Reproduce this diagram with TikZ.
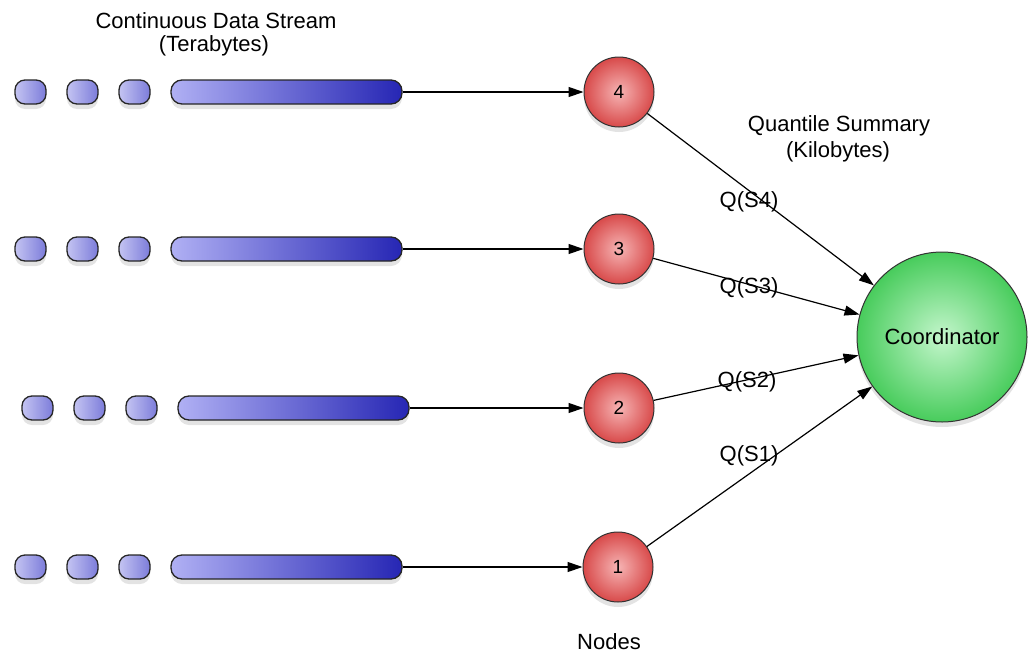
\documentclass[tikz,border=0pt]{standalone}
\usepackage{fontspec}
\setmainfont{Liberation Sans}
\usetikzlibrary{arrows.meta,shadows}
\definecolor{blobL}{HTML}{C4C4F2}
\definecolor{blobR}{HTML}{7C7CDA}
\definecolor{barL}{HTML}{B0B0F4}
\definecolor{barR}{HTML}{2626B4}
\definecolor{redIn}{HTML}{F6B4B4}
\definecolor{redOut}{HTML}{D84A4A}
\definecolor{grnIn}{HTML}{C4F6CC}
\definecolor{grnOut}{HTML}{48CC5C}
\tikzset{
  shad/.style={drop shadow={shadow xshift=0pt,shadow yshift=-5pt,opacity=0.22}},
  blob/.style={draw=black!85,line width=1.3pt,rounded corners=10pt,minimum width=31pt,minimum height=24pt,inner sep=0pt,left color=blobL,right color=blobR,shad},
  bar/.style={draw=black!85,line width=1.3pt,rounded corners=11pt,minimum width=231pt,minimum height=24pt,inner sep=0pt,left color=barL,right color=barR,shad},
  pnode/.style={circle,draw=black!80,line width=1pt,minimum size=70pt,inner sep=0pt,inner color=redIn,outer color=redOut,shad,font=\fontsize{19}{22}\selectfont},
  coord/.style={circle,draw=black!80,line width=1pt,minimum size=170pt,inner sep=0pt,inner color=grnIn,outer color=grnOut,shad,font=\fontsize{22}{26}\selectfont},
  lbl/.style={inner sep=0pt,font=\fontsize{22}{26}\selectfont},
  conn/.style={line width=1.2pt,-{Triangle[length=15pt,width=10pt]}}
}
\begin{document}
\begin{tikzpicture}[x=1pt,y=-1pt]
\useasboundingbox (0,0) rectangle (1028,656);
% row 4 (top)
\node[blob] (a1) at (30.5,92) {};
\node[blob] (a2) at (82.5,92) {};
\node[blob] (a3) at (134.5,92) {};
\node[bar]  (ab) at (286.5,92) {};
% row 3
\node[blob] (b1) at (30.5,249) {};
\node[blob] (b2) at (82.5,249) {};
\node[blob] (b3) at (134.5,249) {};
\node[bar]  (bb) at (286.5,249) {};
% row 2
\node[blob] (c1) at (37.5,408) {};
\node[blob] (c2) at (89.5,408) {};
\node[blob] (c3) at (141.5,408) {};
\node[bar]  (cb) at (293.5,408) {};
% row 1
\node[blob] (d1) at (30.5,567) {};
\node[blob] (d2) at (82.5,567) {};
\node[blob] (d3) at (134.5,567) {};
\node[bar]  (db) at (286.5,567) {};
% nodes
\node[pnode] (n4) at (619,92) {4};
\node[pnode] (n3) at (619,249) {3};
\node[pnode] (n2) at (619,408) {2};
\node[pnode] (n1) at (618,567) {1};
\node[coord] (co) at (942,337) {Coordinator};
% connectors
\draw[conn] (ab.east) -- (n4.west);
\draw[conn] (bb.east) -- (n3.west);
\draw[conn] (cb.east) -- (n2.west);
\draw[conn] (db.east) -- (n1.west);
\draw[conn] (n4) -- (co);
\draw[conn] (n3) -- (co);
\draw[conn] (n2) -- (co);
\draw[conn] (n1) -- (co);
% labels
\node[lbl] (t1) at (216,21) {Continuous Data Stream};
\node[lbl] (t2) at (214,46) {(Terabytes)};
\node[lbl] (t3) at (839,126) {Quantile Summary};
\node[lbl] (t4) at (838,152) {(Kilobytes)};
\node[lbl] (t5) at (609,642) {Nodes};
\node[lbl] (q4) at (749,202) {Q(S4)};
\node[lbl] (q3) at (749,288) {Q(S3)};
\node[lbl] (q2) at (747,382) {Q(S2)};
\node[lbl] (q1) at (749,456) {Q(S1)};
\end{tikzpicture}
\end{document}
